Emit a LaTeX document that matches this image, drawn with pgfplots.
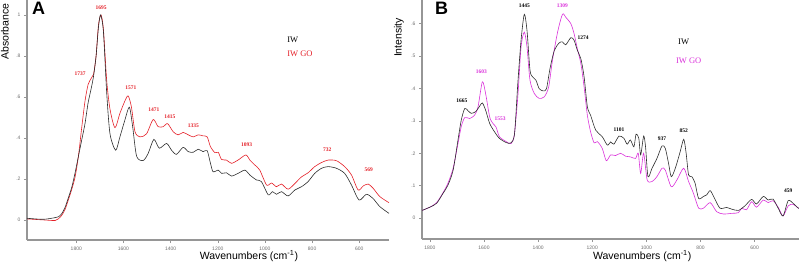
\documentclass[border=0pt]{standalone}
\usepackage{fontspec}
\setmainfont{Liberation Sans}
\newfontfamily\tnr{Liberation Serif}
\usepackage{pgfplots}
\pgfplotsset{compat=1.18}
\definecolor{cred}{RGB}{228,32,40}
\definecolor{cmag}{RGB}{218,50,218}
\definecolor{cblk}{RGB}{45,45,45}
\definecolor{axgray}{RGB}{150,150,150}
\definecolor{tkgray}{RGB}{110,110,110}
\pgfplotsset{myax/.style={
  scale only axis, axis x line=bottom, axis y line=left,
  axis line style={axgray, line width=1.3pt, -},
  x dir=reverse,
  tick style={axgray, line width=0.5pt}, major tick length=3pt, tick align=outside,
  xtick={600,800,1000,1200,1400,1600,1800},
  xticklabels={600,800,1000,1200,1400,1600,1800},
  ticklabel style={font=\fontsize{5}{6}\selectfont, text=tkgray},
  xlabel={Wavenumbers (cm\textsuperscript{-1})},
  every axis x label/.style={font=\fontsize{10.5}{12}\selectfont, anchor=center},
  every axis y label/.style={font=\fontsize{10.5}{12}\selectfont, rotate=90, anchor=east},
  every axis plot/.append style={smooth, tension=0.45},
  clip=true,
}}
\begin{document}
\begin{tikzpicture}
\path[use as bounding box] (0,0) rectangle (799pt,265pt);
% Panel A
\begin{axis}[myax, at={(27pt,25pt)}, anchor=south west, width=362pt, height=240pt,
  xmin=474, xmax=2009, ymin=-0.098, ymax=1.073,
  ytick={0,0.2,0.4,0.6,0.8,1}, yticklabels={0,.2,.4,.6,.8,1},
  ylabel={Absorbance},
  x label style={at={(axis description cs:0.613,-0.067)}},
  y label style={at={(axis description cs:-0.061,1)}}]
\addplot[cred, line width=0.6pt] coordinates {
(2009,0.005)(1940,0.0)(1890,-0.003)(1876,0.005)(1862,0.022)(1848,0.05)(1833,0.1)(1819,0.15)(1805,0.21)(1791,0.31)(1777,0.45)(1763,0.58)(1750,0.66)(1737,0.69)(1727,0.71)(1716,0.8)(1706,0.95)(1695,1.0)(1685,0.93)(1671,0.68)(1657,0.54)(1636,0.45)(1615,0.52)(1594,0.58)(1580,0.605)(1566,0.55)(1551,0.43)(1530,0.405)(1502,0.42)(1474,0.49)(1453,0.455)(1431,0.455)(1413,0.47)(1389,0.43)(1368,0.415)(1347,0.427)(1325,0.415)(1304,0.405)(1283,0.415)(1262,0.41)(1245,0.405)(1231,0.357)(1212,0.328)(1198,0.33)(1184,0.295)(1163,0.292)(1142,0.276)(1114,0.292)(1081,0.317)(1064,0.292)(1043,0.268)(1022,0.243)(993,0.17)(972,0.18)(951,0.162)(930,0.175)(902,0.15)(873,0.178)(845,0.21)(817,0.23)(789,0.26)(760,0.28)(732,0.292)(697,0.289)(662,0.26)(633,0.219)(605,0.146)(583,0.166)(562,0.175)(541,0.154)(513,0.114)(474,0.084)};
\addplot[cblk, line width=0.6pt] coordinates {
(2009,0.008)(1940,0.003)(1890,0.011)(1876,0.015)(1862,0.03)(1848,0.06)(1833,0.11)(1819,0.16)(1805,0.23)(1791,0.31)(1777,0.39)(1763,0.47)(1750,0.57)(1737,0.64)(1727,0.7)(1716,0.8)(1706,0.94)(1697,1.0)(1685,0.92)(1671,0.62)(1657,0.42)(1633,0.34)(1615,0.405)(1594,0.487)(1575,0.55)(1561,0.455)(1544,0.31)(1516,0.29)(1495,0.325)(1471,0.393)(1448,0.35)(1417,0.373)(1396,0.34)(1375,0.32)(1347,0.354)(1325,0.333)(1304,0.33)(1283,0.345)(1262,0.333)(1245,0.338)(1231,0.276)(1220,0.235)(1198,0.243)(1184,0.227)(1163,0.23)(1142,0.214)(1114,0.227)(1085,0.243)(1064,0.219)(1036,0.195)(1015,0.187)(986,0.122)(968,0.138)(951,0.125)(930,0.138)(902,0.117)(873,0.146)(845,0.162)(817,0.187)(789,0.227)(760,0.252)(732,0.26)(697,0.252)(662,0.227)(633,0.17)(601,0.097)(570,0.125)(542,0.105)(513,0.065)(474,0.032)};
\begin{scope}[every node/.style={font=\tnr\bfseries\fontsize{5.5}{6}\selectfont, text=cred}]
\node at (axis cs:1695,1.036) {1695};
\node at (axis cs:1784,0.711) {1737};
\node at (axis cs:1568,0.646) {1571};
\node at (axis cs:1471,0.539) {1471};
\node at (axis cs:1403,0.503) {1415};
\node at (axis cs:1304,0.458) {1335};
\node at (axis cs:1078,0.365) {1093};
\node at (axis cs:736,0.341) {732};
\node at (axis cs:560,0.243) {569};
\end{scope}
\node[anchor=west, font=\tnr\fontsize{8.5}{9}\selectfont, text=black, inner sep=0pt] at (axis cs:906,0.881) {IW};
\node[anchor=west, font=\tnr\fontsize{8.5}{9}\selectfont, text=cred, inner sep=0pt] at (axis cs:906,0.81) {IW GO};
\node[font=\bfseries\fontsize{18}{20}\selectfont, inner sep=0pt] at (axis description cs:0.032,0.965) {A};
\end{axis}
% Panel B
\begin{axis}[myax, at={(422pt,26pt)}, anchor=south west, width=377pt, height=239pt,
  xmin=436, xmax=1829, ymin=-0.064, ymax=0.672,
  ytick={0,0.1,0.2,0.3,0.4,0.5,0.6}, yticklabels={0,.1,.2,.3,.4,.5,.6},
  ylabel={Intensity},
  x label style={at={(axis description cs:0.584,-0.071)}},
  y label style={at={(axis description cs:-0.061,0.94)}}]
\addplot[cmag, line width=0.6pt] coordinates {
(1829,0.024)(1800,0.034)(1775,0.048)(1751,0.079)(1733,0.108)(1714,0.154)(1696,0.23)(1684,0.282)(1671,0.31)(1653,0.307)(1635,0.317)(1622,0.343)(1606,0.42)(1594,0.384)(1579,0.312)(1567,0.292)(1555,0.28)(1543,0.251)(1518,0.236)(1500,0.23)(1488,0.256)(1475,0.374)(1463,0.527)(1451,0.573)(1441,0.527)(1430,0.425)(1414,0.384)(1396,0.369)(1377,0.374)(1361,0.404)(1347,0.486)(1328,0.573)(1310,0.628)(1298,0.619)(1279,0.599)(1267,0.568)(1255,0.522)(1242,0.476)(1230,0.404)(1218,0.317)(1206,0.266)(1193,0.232)(1181,0.236)(1163,0.215)(1148,0.177)(1132,0.195)(1114,0.193)(1095,0.2)(1077,0.191)(1059,0.189)(1040,0.184)(1030,0.2)(1021,0.138)(1010,0.2)(997,0.118)(979,0.113)(961,0.128)(942,0.154)(930,0.148)(908,0.097)(887,0.118)(862,0.154)(844,0.113)(826,0.077)(807,0.031)(789,0.031)(764,0.048)(740,0.02)(715,0.013)(685,0.015)(660,0.017)(648,0.031)(630,0.026)(611,0.051)(593,0.034)(568,0.056)(550,0.048)(532,0.054)(513,0.034)(495,0.007)(476,0.038)(458,0.043)(443,0.034)(436,0.03)};
\addplot[cblk, line width=0.6pt] coordinates {
(1829,0.024)(1800,0.034)(1775,0.046)(1751,0.077)(1733,0.102)(1714,0.148)(1696,0.241)(1684,0.302)(1671,0.338)(1659,0.331)(1647,0.323)(1631,0.328)(1616,0.345)(1606,0.355)(1594,0.333)(1579,0.292)(1561,0.266)(1543,0.246)(1518,0.233)(1500,0.232)(1487,0.261)(1475,0.415)(1463,0.548)(1451,0.628)(1441,0.578)(1430,0.456)(1420,0.435)(1408,0.425)(1396,0.399)(1381,0.392)(1369,0.399)(1356,0.461)(1340,0.517)(1322,0.54)(1310,0.543)(1298,0.534)(1279,0.556)(1267,0.548)(1255,0.517)(1242,0.491)(1230,0.435)(1218,0.343)(1206,0.317)(1187,0.271)(1163,0.251)(1144,0.225)(1132,0.235)(1120,0.228)(1101,0.253)(1083,0.246)(1071,0.228)(1059,0.241)(1046,0.22)(1038,0.259)(1028,0.246)(1021,0.195)(1010,0.253)(1003,0.22)(994,0.128)(979,0.154)(961,0.184)(942,0.223)(930,0.215)(918,0.169)(908,0.128)(893,0.154)(875,0.205)(862,0.243)(853,0.2)(844,0.133)(832,0.128)(820,0.108)(807,0.061)(789,0.067)(777,0.072)(764,0.085)(748,0.061)(728,0.031)(703,0.033)(685,0.028)(660,0.024)(636,0.038)(611,0.058)(593,0.044)(568,0.067)(550,0.056)(532,0.059)(513,0.031)(495,0.007)(476,0.054)(458,0.046)(443,0.034)(436,0.03)};
\begin{scope}[every node/.style={font=\tnr\bfseries\fontsize{5.5}{6}\selectfont}]
\node[text=black] at (axis cs:1682,0.361) {1665};
\node[text=cmag] at (axis cs:1610,0.45) {1603};
\node[text=cmag] at (axis cs:1540,0.307) {1553};
\node[text=black] at (axis cs:1451,0.653) {1445};
\node[text=cmag] at (axis cs:1310,0.653) {1309};
\node[text=black] at (axis cs:1234,0.556) {1274};
\node[text=black] at (axis cs:1101,0.274) {1101};
\node[text=black] at (axis cs:942,0.244) {937};
\node[text=black] at (axis cs:862,0.268) {852};
\node[text=black] at (axis cs:476,0.084) {459};
\end{scope}
\node[anchor=west, font=\tnr\fontsize{8.5}{9}\selectfont, text=black, inner sep=0pt] at (axis cs:883,0.543) {IW};
\node[anchor=west, font=\tnr\fontsize{8.5}{9}\selectfont, text=cmag, inner sep=0pt] at (axis cs:891,0.486) {IW GO};
\node[font=\bfseries\fontsize{18}{20}\selectfont, inner sep=0pt] at (axis description cs:0.052,0.964) {B};
\end{axis}
\end{tikzpicture}
\end{document}
